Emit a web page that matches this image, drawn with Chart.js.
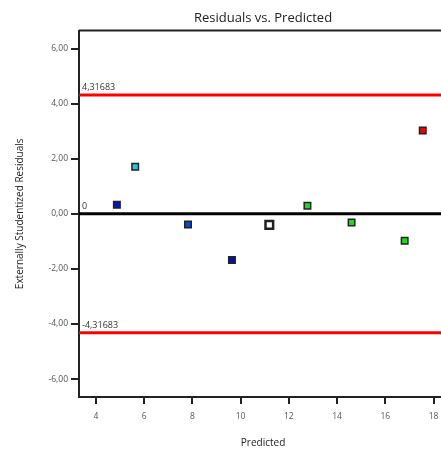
<!DOCTYPE html>
<html>
<head>
<meta charset="utf-8">
<script src="https://cdn.jsdelivr.net/npm/chart.js@4.4.1/dist/chart.umd.min.js"></script>
<style>
  html, body { margin: 0; padding: 0; background: #fff; overflow: hidden; }
  #wrap { width: 455px; height: 454px; }
</style>
</head>
<body>
<div id="wrap"><canvas id="chart"></canvas></div>
<script>
// values
const predicted = [4.87, 5.63, 7.82, 9.64, 11.19, 12.77, 14.60, 16.80, 17.55];
const residuals = [0.33, 1.71, -0.39, -1.68, -0.40, 0.29, -0.32, -0.98, 3.02];
const pointColors = ['#0014c8', '#1ec8ec', '#0a46dc', '#0010c0', '#ffffff', '#14e014', '#14e014', '#14e014', '#f00000'];
const pointSizes = [4.6, 4.6, 4.6, 4.6, 5.4, 4.6, 4.6, 4.6, 4.6];
const limit = 4.31683;
const limitLabels = ['4,31683', '0', '-4,31683'];
const limitValues = [limit, 0, -limit];
const xTicks = [4, 6, 8, 10, 12, 14, 16, 18];
const yTicks = [-6, -4, -2, 0, 2, 4, 6];
const xMin = 3.3, xMax = 18.56;
const yMin = -6.65, yMax = 6.65;

const fmt = v => v.toFixed(2).replace('.', ',');

const hline = (y, color) => ({
  type: 'line',
  data: [{ x: xMin, y: y }, { x: xMax, y: y }],
  borderColor: color,
  borderWidth: 3,
  pointRadius: 0,
  order: 2
});

const frame = {
  id: 'frame',
  afterDatasetsDraw(chart) {
    const { ctx, chartArea, scales } = chart;
    ctx.save();
    ctx.strokeStyle = '#222';
    ctx.lineWidth = 2;
    ctx.beginPath();
    ctx.moveTo(chartArea.left, chartArea.top);
    ctx.lineTo(chartArea.right, chartArea.top);
    ctx.stroke();
    ctx.font = '9px "Open Sans"';
    ctx.fillStyle = '#333';
    ctx.textBaseline = 'bottom';
    limitValues.forEach((v, i) => {
      ctx.fillText(limitLabels[i], chartArea.left + 3, scales.y.getPixelForValue(v) - 3);
    });
    ctx.restore();
  }
};

new Chart(document.getElementById('chart'), {
  type: 'scatter',
  data: {
    datasets: [
      {
        data: predicted.map((x, i) => ({ x: x, y: residuals[i] })),
        backgroundColor: pointColors,
        borderColor: '#222',
        borderWidth: predicted.map((x, i) => i === 4 ? 2.5 : 1.5),
        pointStyle: 'rect',
        pointRadius: pointSizes,
        order: 0
      },
      hline(limit, '#ff0000'),
      hline(-limit, '#ff0000'),
      hline(0, '#000000')
    ]
  },
  options: {
    responsive: true,
    maintainAspectRatio: false,
    animation: false,
    layout: { padding: { left: 14, right: 0, top: 0, bottom: 0 } },
    plugins: {
      legend: { display: false },
      tooltip: { enabled: false },
      title: {
        display: true,
        fullSize: false,
        text: 'Residuals vs. Predicted',
        color: '#222',
        font: { family: 'Open Sans', size: 13, weight: 'normal' },
        padding: { top: 10, bottom: 5 }
      }
    },
    scales: {
      x: {
        type: 'linear',
        min: xMin,
        max: xMax,
        afterBuildTicks: s => { s.ticks = xTicks.map(v => ({ value: v })); },
        afterFit: s => { s.height = 57; },
        border: { display: true, color: '#222', width: 2 },
        grid: { drawOnChartArea: false, drawTicks: true, tickLength: 7, color: '#222', lineWidth: 2 },
        ticks: {
          color: '#555',
          font: { family: 'Open Sans', size: 8.5 },
          padding: 7,
          callback: v => String(v)
        },
        title: {
          display: true,
          text: 'Predicted',
          color: '#222',
          font: { family: 'Open Sans', size: 10 },
          padding: { top: 0, bottom: 5 }
        }
      },
      y: {
        type: 'linear',
        min: yMin,
        max: yMax,
        afterBuildTicks: s => { s.ticks = yTicks.map(v => ({ value: v })); },
        afterFit: s => { s.width = 65; },
        border: { display: true, color: '#222', width: 2 },
        grid: { drawOnChartArea: false, drawTicks: true, tickLength: 8, color: '#222', lineWidth: 2 },
        ticks: {
          color: '#555',
          font: { family: 'Open Sans', size: 8.5 },
          padding: 3,
          callback: v => fmt(v)
        },
        title: {
          display: true,
          text: 'Externally Studentized Residuals',
          color: '#222',
          font: { family: 'Open Sans', size: 10 },
          padding: { top: 0, bottom: 0 }
        }
      }
    }
  },
  plugins: [frame]
});
</script>
</body>
</html>
